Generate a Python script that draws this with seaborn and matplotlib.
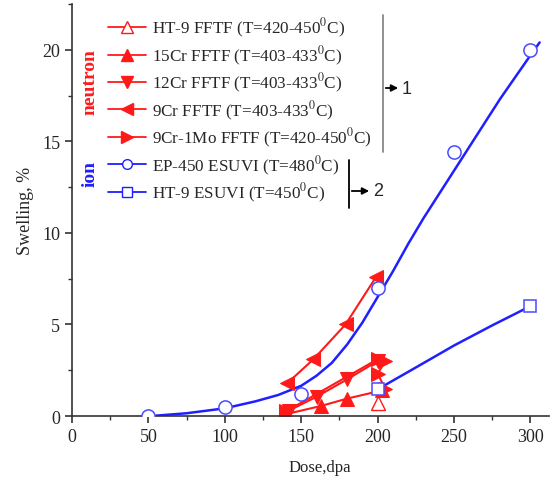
import numpy as np
import pandas as pd
import matplotlib.pyplot as plt
import seaborn as sns
from matplotlib.lines import Line2D

# --- data ---
ep450_dose = [50, 100, 150, 200, 250, 300]
ep450_swell = [0.0, 0.5, 1.2, 7.0, 14.4, 20.0]
# smooth fit curve through EP-450 points
ep450_fit_dose = [55, 75, 100, 120, 135, 150, 160, 170, 180, 190, 200, 210, 220, 230,
                  240, 250, 260, 270, 280, 290, 300, 306]
ep450_fit_swell = [0.02, 0.15, 0.42, 0.8, 1.15, 1.65, 2.2, 2.9, 3.9, 5.1, 6.5, 7.9, 9.4, 10.8,
                   12.1, 13.4, 14.7, 16.0, 17.3, 18.5, 19.7, 20.4]

ht9_esuvi_dose = [200, 300]
ht9_esuvi_swell = [1.5, 6.0]
ht9_fit_dose = [203, 225, 250, 275, 300]
ht9_fit_swell = [1.6, 2.65, 3.85, 4.95, 6.0]

ht9_fftf_dose = [200]
ht9_fftf_swell = [0.7]
cr15_dose = [140, 163, 180, 203]
cr15_swell = [0.1, 0.55, 0.95, 1.4]
cr12_dose = [142, 160, 180, 200]
cr12_swell = [0.3, 1.05, 2.0, 3.0]
cr9_dose = [141, 158, 179, 199]
cr9_swell = [1.8, 3.1, 5.0, 7.6]
cr9mo_dose = [140, 200, 205, 200, 205]
cr9mo_swell = [0.25, 3.1, 3.0, 2.3, 1.5]

labels = [
    'HT-9 FFTF (T=420-450$^0$C)',
    '15Cr FFTF (T=403-433$^0$C)',
    '12Cr FFTF (T=403-433$^0$C)',
    '9Cr FFTF (T=403-433$^0$C)',
    '9Cr-1Mo FFTF (T=420-450$^0$C)',
    'EP-450 ESUVI (T=480$^0$C)',
    'HT-9 ESUVI (T=450$^0$C)',
]

RED = '#ff1a1a'
BLUE = '#1f1fff'

sns.set_style('ticks')
plt.rcParams.update({
    'font.family': 'serif',
    'font.serif': ['Liberation Serif', 'DejaVu Serif'],
    'mathtext.fontset': 'stix',
    'xtick.direction': 'out',
    'ytick.direction': 'out',
})

fig = plt.figure(figsize=(5.6, 4.85), dpi=100)
ax = fig.add_axes([0.1286, 0.1402, 0.8514, 0.8495])

# blue fit curves + open markers
sns.lineplot(x=ep450_fit_dose, y=ep450_fit_swell, ax=ax, color=BLUE, lw=1.8,
             estimator=None, sort=False)
sns.lineplot(x=ht9_fit_dose, y=ht9_fit_swell, ax=ax, color=BLUE, lw=1.8,
             estimator=None, sort=False)
ax.plot(ep450_dose, ep450_swell, 'o', ms=9.5, mfc='white', mec='#4a4aff', mew=1.1, zorder=4)
ax.plot(ht9_esuvi_dose, ht9_esuvi_swell, 's', ms=8.5, mfc='white', mec='#4a4aff', mew=1.1, zorder=4)

# red neutron series
red_series = [
    (cr15_dose, cr15_swell, '^'),
    (cr12_dose, cr12_swell, 'v'),
    (cr9_dose, cr9_swell, '<'),
    (cr9mo_dose, cr9mo_swell, '>'),
]
for d, s, m in red_series:
    sns.lineplot(x=d, y=s, ax=ax, color=RED, lw=1.5, marker=m, markersize=10,
                 markeredgecolor=RED, markerfacecolor=RED, estimator=None, sort=False)
ax.plot(ht9_fftf_dose, ht9_fftf_swell, '^', ms=10, mfc='white', mec=RED, mew=1.0, zorder=4)

ax.set_xlim(0, 312)
ax.set_ylim(0, 22.5)
ax.set_xticks(np.arange(0, 301, 50))
ax.set_xticks(np.arange(25, 312, 25), minor=True)
ax.set_yticks(np.arange(0, 21, 5))
ax.set_yticks(np.arange(2.5, 22.6, 2.5), minor=True)
ax.tick_params(axis='both', which='major', labelsize=13, length=5, width=1.2, color='#333333')
ax.tick_params(axis='both', which='minor', length=3, width=1.0, color='#333333')
for sp in ['top', 'right']:
    ax.spines[sp].set_visible(False)
for sp in ['left', 'bottom']:
    ax.spines[sp].set_linewidth(1.2)
    ax.spines[sp].set_color('#333333')

ax.set_xlabel('Dose,dpa', fontsize=12)
ax.xaxis.set_label_coords(0.52, -0.105)
ax.set_ylabel('Swelling, %', fontsize=13, labelpad=6)

# legend
markers = ['^', '^', 'v', '<', '>', 'o', 's']
handles = []
for i, m in enumerate(markers):
    if i < 5:
        col = RED
        fc = 'white' if i == 0 else RED
    else:
        col = BLUE
        fc = 'white'
    handles.append(Line2D([], [], color=col, lw=1.3, marker=m, ms=8 if i < 5 else 7,
                          mfc=fc, mec=col, mew=1.0))
leg = ax.legend(handles, labels, loc='upper left', frameon=False, fontsize=12.3,
                bbox_to_anchor=(108 / 560, 1 - 17 / 485), bbox_transform=fig.transFigure,
                borderpad=0, borderaxespad=0, handlelength=2.25, handletextpad=0.3,
                labelspacing=0.25)


def fp(x, y):
    return (x, 485 - y)


fig.text(90 / 560, 1 - 82 / 485, 'neutron', color=RED, fontsize=14, rotation=90,
         ha='center', va='center', fontweight='bold')
fig.text(90 / 560, 1 - 174 / 485, 'ion', color=BLUE, fontsize=14, rotation=90,
         ha='center', va='center', fontweight='bold')

# bracket 1
fig.add_artist(Line2D([383 / 560, 383 / 560], [1 - 16 / 485, 1 - 153 / 485],
                      color='#888888', lw=1.3, transform=fig.transFigure))
ax.annotate('', xy=fp(401, 89), xytext=fp(383, 89), xycoords='figure pixels',
            textcoords='figure pixels',
            arrowprops=dict(arrowstyle='-|>', color='black', lw=1.3, mutation_scale=10))
fig.text(402 / 560, 1 - 89 / 485, '1', fontsize=13, family='Liberation Sans',
         ha='left', va='center')

# bracket 2
fig.add_artist(Line2D([349 / 560, 349 / 560], [1 - 161 / 485, 1 - 209 / 485],
                      color='black', lw=1.3, transform=fig.transFigure))
ax.annotate('', xy=fp(372, 192), xytext=fp(349, 192), xycoords='figure pixels',
            textcoords='figure pixels',
            arrowprops=dict(arrowstyle='-|>', color='black', lw=1.3, mutation_scale=10))
fig.text(373 / 560, 1 - 192 / 485, '2', fontsize=13, family='Liberation Sans',
         ha='left', va='center')

fig.savefig('out.png', dpi=100)
